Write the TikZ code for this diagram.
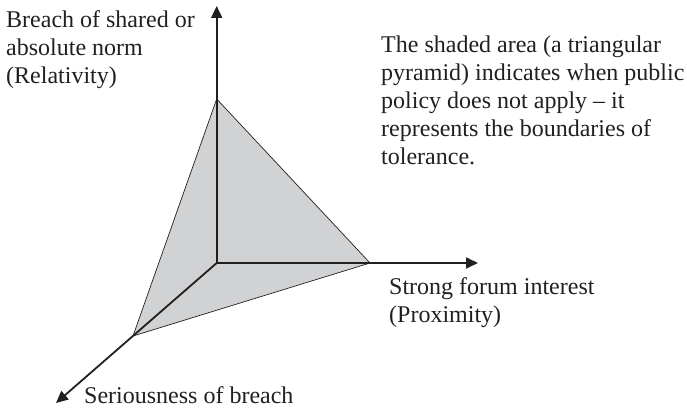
\documentclass[tikz,border=0pt]{standalone}
\usepackage{fontspec}
\setmainfont{Liberation Serif}
\usetikzlibrary{arrows.meta}
\definecolor{shade}{RGB}{209,210,212}
\definecolor{ink}{RGB}{35,31,32}
\tikzset{
  axis/.style={draw=ink, line width=1.8pt, -{Triangle[length=12pt,width=11pt]}},
  face/.style={fill=shade, draw=ink, line width=0.7pt, line join=miter},
  label/.style={inner sep=0pt, align=left, anchor=north west, font=\fontsize{24}{28}\selectfont, text=ink}
}
\begin{document}
\begin{tikzpicture}[x=1pt,y=-1pt]
\useasboundingbox (0,0) rectangle (687,411);
\coordinate (O) at (216.7,263);
\coordinate (A) at (216.7,99);
\coordinate (R) at (370,263);
\coordinate (B) at (133,336);
\coordinate (Ytip) at (216.7,6);
\coordinate (Xtip) at (478,263);
\coordinate (Ztip) at (56,403);
\filldraw[face] (A) -- (R) -- (B) -- cycle;
\draw[axis] (O) -- (Ytip);
\draw[axis] (O) -- (Xtip);
\draw[axis] (O) -- (Ztip);
\node[label] (ylab) at (6,7.4) {\strut Breach of shared or\\absolute norm\\(Relativity)};
\node[label] (note) at (381,32.4) {\strut The shaded area (a triangular\\pyramid) indicates when public\\policy does not apply -- it\\represents the boundaries of\\tolerance.};
\node[label] (xlab) at (389,274.4) {\strut Strong forum interest\\(Proximity)};
\node[label, anchor=base west] (zlab) at (84,403) {Seriousness of breach};
\end{tikzpicture}
\end{document}
